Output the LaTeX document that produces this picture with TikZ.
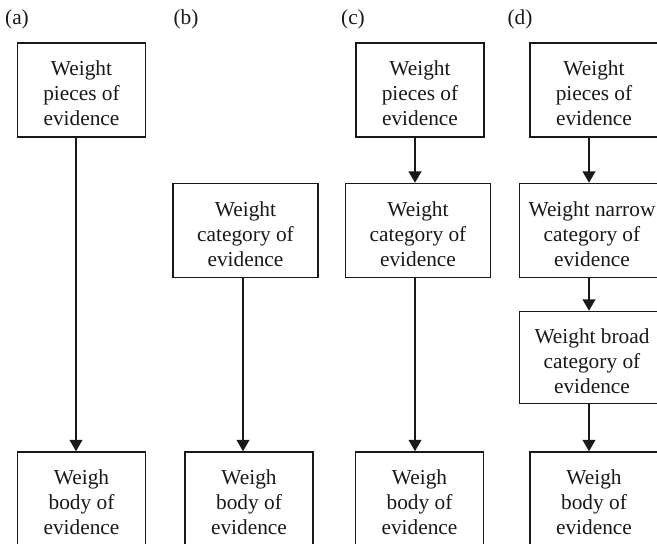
\documentclass[tikz,border=0pt]{standalone}
\usepackage{fontspec}
\setmainfont{Liberation Serif}
\usetikzlibrary{arrows.meta}
\begin{document}
\begin{tikzpicture}[x=0.75pt,y=-0.75pt,
  every node/.style={font=\fontsize{16}{18.75}\selectfont, text=black!90},
  boxbase/.style={draw=black!90, line width=1.1pt, inner sep=0pt, align=center, minimum height=70.5pt},
  smallbox/.style={boxbase, minimum width=96pt},
  widebox/.style={boxbase, minimum width=108.75pt},
  lbl/.style={inner sep=0pt},
  arr/.style={draw=black!90, line width=1.2pt, -{Triangle[length=8.5pt,width=9.5pt]}}]
\clip (0,0) rectangle (657,543);
\fill[white] (0,0) rectangle (657,543);
\newcommand{\fs}{\rule{0pt}{16.5pt}}
% labels
\node[lbl] (la) at (17,19) {(a)};
\node[lbl] (lb) at (186,19) {(b)};
\node[lbl] (lc) at (353,19) {(c)};
\node[lbl] (ld) at (520,19) {(d)};
% column a
\node[smallbox] (a1) at (81.5,90) {\fs Weight\\pieces of\\evidence};
\node[smallbox] (a2) at (81.5,499) {\fs Weigh\\body of\\evidence};
% column b
\node[widebox] (b1) at (245.5,230.5) {\fs Weight\\category of\\evidence};
\node[smallbox] (b2) at (249,499) {\fs Weigh\\body of\\evidence};
% column c
\node[smallbox] (c1) at (420,90) {\fs Weight\\pieces of\\evidence};
\node[widebox] (c2) at (418,230.5) {\fs Weight\\category of\\evidence};
\node[smallbox] (c3) at (419.5,499) {\fs Weigh\\body of\\evidence};
% column d
\node[smallbox] (d1) at (594,90) {\fs Weight\\pieces of\\evidence};
\node[widebox] (d2) at (592,230.5) {\fs Weight narrow\\category of\\evidence};
\node[widebox, minimum height=69pt] (d3) at (592,357.5) {\fs Weight broad\\category of\\evidence};
\node[smallbox] (d4) at (594,499) {\fs Weigh\\body of\\evidence};
% arrow columns
\coordinate (xa) at (76,0);
\coordinate (xb) at (243,0);
\coordinate (xc) at (415,0);
\coordinate (xd) at (589,0);
\draw[arr] (a1.south -| xa) -- (a2.north -| xa);
\draw[arr] (b1.south -| xb) -- (b2.north -| xb);
\draw[arr] (c1.south -| xc) -- (c2.north -| xc);
\draw[arr] (c2.south -| xc) -- (c3.north -| xc);
\draw[arr] (d1.south -| xd) -- (d2.north -| xd);
\draw[arr] (d2.south -| xd) -- (d3.north -| xd);
\draw[arr] (d3.south -| xd) -- (d4.north -| xd);
\end{tikzpicture}
\end{document}
